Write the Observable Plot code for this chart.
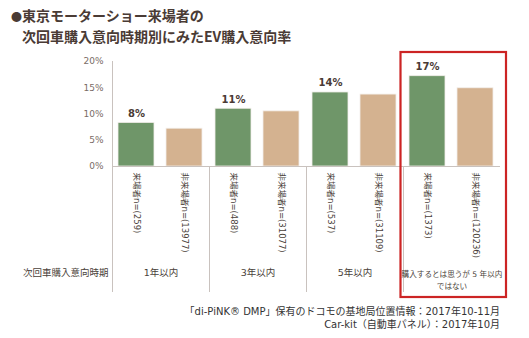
<!DOCTYPE html>
<html>
<head>
<meta charset="utf-8">
<script src="https://cdn.jsdelivr.net/npm/d3@7"></script>
<script src="https://cdn.jsdelivr.net/npm/@observablehq/plot@0.6"></script>
<style>
  html, body { margin: 0; padding: 0; background: #fff; }
  #wrap { position: relative; width: 529px; height: 338px; overflow: hidden; font-family: "DejaVu Sans", "Noto Sans CJK JP", sans-serif; }
  #title { position: absolute; left: 11px; top: 5px; font-family: "Noto Sans CJK JP", sans-serif; font-weight: bold; font-size: 14px; line-height: 20px; color: #4a3b35; white-space: nowrap; }
  #title .b { display: inline-block; width: 11px; font-size: 11px; overflow: visible; }
  #title .l2 { padding-left: 11px; }
  #chart { position: absolute; left: 0; top: 50px; }
  #foot { position: absolute; right: 29px; top: 305px; text-align: right; font-size: 10px; line-height: 13px; color: #333; white-space: nowrap; font-family: "DejaVu Sans", "Noto Sans CJK JP", sans-serif; }
</style>
</head>
<body>
<div id="wrap">
  <div id="title"><div><span class="b">●</span>東京モーターショー来場者の</div><div class="l2">次回車購入意向時期別にみたEV購入意向率</div></div>
  <div id="chart"></div>
  <div id="foot"><div>「di-PiNK® DMP」保有のドコモの基地局位置情報：2017年10-11月</div><div>Car-kit（自動車パネル）：2017年10月</div></div>
</div>
<script>
const groups = ["1年以内", "3年以内", "5年以内", "購入するとは思うが 5 年以内\nではない"];
const types = ["来場者", "非来場者"];
const visitorValues = [0.083, 0.110, 0.141, 0.172];
const nonVisitorValues = [0.072, 0.105, 0.137, 0.149];
const visitorN = ["259", "488", "537", "1373"];
const nonVisitorN = ["13977", "31077", "31109", "120236"];
const yTicks = [0, 0.05, 0.10, 0.15, 0.20];
const axisTitle = "次回車購入意向時期";
const highlightGroup = [groups[3]];

const bars = [];
groups.forEach((g, i) => {
  bars.push({group: g, type: types[0], value: visitorValues[i], label: `${types[0]}n=(${visitorN[i]})`});
  bars.push({group: g, type: types[1], value: nonVisitorValues[i], label: `${types[1]}n=(${nonVisitorN[i]})`});
});

const W = 529, H = 250, mT = 11, mB = 134, mL = 111, mR = 28;
const innerH = H - mT - mB;
const lineGray = "#c9c2be";
const font = "DejaVu Sans, Noto Sans CJK JP, sans-serif";

const plot = Plot.plot({
  width: W, height: H,
  marginTop: mT, marginBottom: mB, marginLeft: mL, marginRight: mR,
  style: {fontFamily: font, background: "transparent"},
  fx: {domain: groups, padding: 0, axis: null},
  x: {domain: types, paddingInner: 0.24, paddingOuter: 0.12, axis: null},
  y: {domain: [0, 0.2], axis: null},
  color: {domain: types, range: ["#6f9669", "#d4b290"]},
  marks: [
    Plot.axisY({ticks: yTicks, tickFormat: d3.format(".0%"), tickSize: 0, tickPadding: 9, fontSize: 9, fill: "#7a6c66", label: null}),
    Plot.frame({anchor: "left", stroke: lineGray, insetTop: innerH, insetBottom: -125}),
    Plot.frame({anchor: "left", stroke: lineGray, facet: "super"}),
    Plot.barY(bars, {fx: "group", x: "type", y: "value", fill: "type", stroke: "#f2eeea", strokeWidth: 0.8}),
    Plot.ruleY([0], {stroke: lineGray}),
    Plot.text(bars.filter(d => d.type === types[0]), {fx: "group", x: "type", y: "value", text: d => d3.format(".0%")(d.value), lineAnchor: "bottom", dy: -6, fontSize: 10, fontWeight: "bold", fill: "#4a3b35"}),
    Plot.text(bars, {fx: "group", x: "type", y: () => 0, text: "label", rotate: 90, textAnchor: "start", lineAnchor: "middle", dy: 6, fontSize: 8.5, fill: "#4a3f3a"}),
    Plot.text(groups.slice(0, 3), {fx: d => d, text: d => d, frameAnchor: "bottom", lineAnchor: "middle", dy: 106, fontSize: 9.5, fill: "#4a3f3a"}),
    Plot.text(groups.slice(3), {fx: d => d, text: d => d, frameAnchor: "bottom", lineAnchor: "top", dy: 102, lineHeight: 1.6, fontSize: 7.6, fill: "#4a3f3a"}),
    Plot.text([axisTitle], {facet: "super", text: d => d, frameAnchor: "bottom-left", textAnchor: "end", lineAnchor: "middle", dx: -4, dy: 106, fontSize: 9.5, fill: "#4a3f3a"}),
    Plot.rect(highlightGroup, {fx: d => d, y1: 0, y2: 0.2, fill: "none", stroke: "#cc2424", strokeWidth: 2.2, insetLeft: -2.5, insetRight: -6, insetTop: -9, insetBottom: -131})
  ]
});
document.getElementById("chart").appendChild(plot);
</script>
</body>
</html>
